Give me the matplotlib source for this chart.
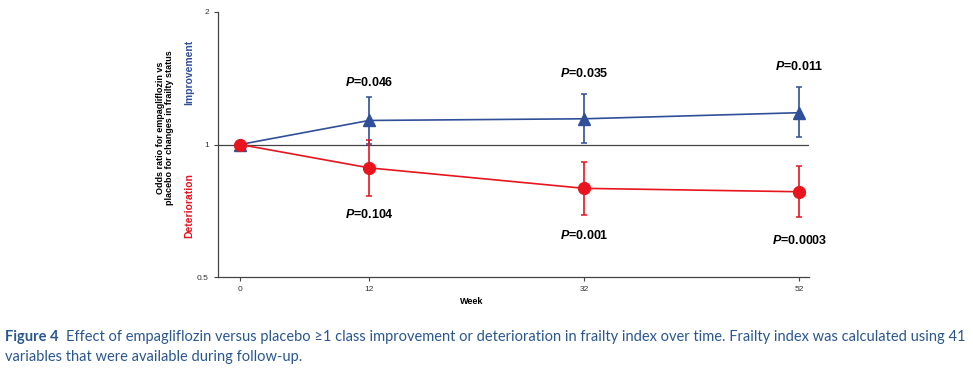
import numpy as np
import matplotlib
matplotlib.use('Agg')
import matplotlib.pyplot as plt

plt.rcParams['font.family'] = ['Liberation Sans', 'DejaVu Sans']
plt.rcParams['mathtext.fontset'] = 'custom'
plt.rcParams['mathtext.it'] = 'Liberation Sans:style=italic:weight=bold'
plt.rcParams['mathtext.rm'] = 'Liberation Sans:weight=bold'

# data
weeks = [0, 12, 32, 52]
impr_or = [1.0, 1.134, 1.144, 1.181]
impr_lo = [1.0, 1.003, 1.007, 1.039]
impr_hi = [1.0, 1.28, 1.30, 1.351]
impr_p = ['', '0.046', '0.035', '0.011']

det_or = [1.0, 0.885, 0.795, 0.781]
det_lo = [1.0, 0.762, 0.691, 0.683]
det_hi = [1.0, 1.026, 0.911, 0.894]
det_p = ['', '0.104', '0.001', '0.0003']

# label offsets in points (above upper / below lower CI)
impr_off = [0, 6, 10, 10]
det_off = [0, -8, -10, -12]

blue = '#2f4f98'
red = '#e8141e'
axcol = '#444444'

fig = plt.figure(figsize=(9.73, 3.73), dpi=100)
ax = fig.add_axes([218/973, 1-277/373, (809-218)/973, (277-12)/373])
ax.set_yscale('log')
ax.set_ylim(0.5, 2)
ax.set_xlim(-2.05, 52.9)

ax.axhline(1, color=axcol, lw=0.9, zorder=1)

imp = np.array(impr_or)
ax.errorbar(weeks, impr_or, yerr=[imp - np.array(impr_lo), np.array(impr_hi) - imp],
            color=blue, marker='^', ms=8, lw=1.2, elinewidth=1.2, capsize=2, capthick=1.1, zorder=3)
det = np.array(det_or)
ax.errorbar(weeks, det_or, yerr=[det - np.array(det_lo), np.array(det_hi) - det],
            color=red, marker='o', ms=8.5, lw=1.2, elinewidth=1.2, capsize=2, capthick=1.1, zorder=4)

# p-value labels
for w, y, p, o in zip(weeks, impr_hi, impr_p, impr_off):
    if p:
        ax.annotate('$P$=' + p, (w, y), xytext=(0, o), textcoords='offset points',
                    ha='center', va='bottom', fontsize=9, fontweight='bold')
for w, y, p, o in zip(weeks, det_lo, det_p, det_off):
    if p:
        ax.annotate('$P$=' + p, (w, y), xytext=(0, o), textcoords='offset points',
                    ha='center', va='top', fontsize=9, fontweight='bold')

ax.set_yticks([0.5, 1, 2])
ax.set_yticklabels(['0.5', '1', '2'])
ax.yaxis.set_minor_locator(matplotlib.ticker.NullLocator())
ax.set_xticks(weeks)
ax.set_xticklabels([str(w) for w in weeks])
ax.tick_params(labelsize=6, colors='#333333', length=3, width=0.8, color=axcol)
for s in ['top', 'right']:
    ax.spines[s].set_visible(False)
for s in ['left', 'bottom']:
    ax.spines[s].set_color(axcol)
    ax.spines[s].set_linewidth(0.9)

fig.text(472/973, 1-302/373, 'Week', ha='center', va='center', fontsize=6.5, fontweight='bold')
fig.text(165/973, 1-128/373, 'Odds ratio for empagliflozin vs\nplacebo for changes in frailty status',
         rotation=90, ha='center', va='center', fontsize=6.5, fontweight='bold', linespacing=1.1)
fig.text(189/973, 1-72/373, 'Improvement', rotation=90, ha='center', va='center',
         fontsize=7.5, fontweight='bold', color=blue)
fig.text(189/973, 1-206/373, 'Deterioration', rotation=90, ha='center', va='center',
         fontsize=7.5, fontweight='bold', color=red)

# caption
capcol = '#2a5791'
capfont = ['Lato', 'DejaVu Sans']
t1 = fig.text(5/973, 1-337/373, 'Figure 4', ha='left', va='center', fontsize=10.5,
              fontweight='bold', color=capcol, family=capfont)
fig.canvas.draw()
bb = t1.get_window_extent()
fig.text((bb.x1 + 8)/973, 1-337/373,
         'Effect of empagliflozin versus placebo \u22651 class improvement or deterioration in frailty index over time. Frailty index was calculated using 41',
         ha='left', va='center', fontsize=10.55, color=capcol, family=capfont)
fig.text(5/973, 1-357/373, 'variables that were available during follow-up.', ha='left', va='center',
         fontsize=10.55, color=capcol, family=capfont)

fig.savefig('out.png', dpi=100)
